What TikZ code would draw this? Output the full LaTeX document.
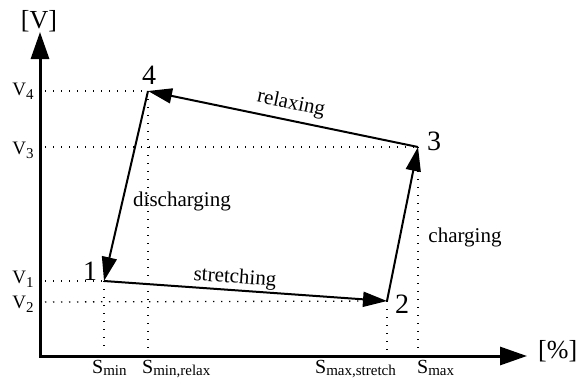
\documentclass[tikz,border=0pt]{standalone}
\usepackage{fontspec}
\setmainfont{Liberation Serif}
\usetikzlibrary{arrows.meta}
\newcommand\lowsub[2]{\raisebox{-#2}{\fontsize{15}{15}\selectfont #1}}
\begin{document}
\begin{tikzpicture}[x=1pt,y=-1pt,
  axis/.style={line width=3pt,line join=miter,{Triangle[length=27pt,width=18pt]}-{Triangle[length=27pt,width=18pt]}},
  edge/.style={line width=2pt,-{Triangle[length=24pt,width=15pt]}},
  guide/.style={line width=1.3pt,dash pattern=on 1.3pt off 6.7pt},
  lbl/.style={font=\fontsize{21}{21}\selectfont,inner sep=0pt},
  num/.style={font=\fontsize{28}{28}\selectfont,inner sep=0pt},
  vlab/.style={font=\fontsize{19}{19}\selectfont,inner sep=0pt,anchor=base},
  slab/.style={font=\fontsize{20}{20}\selectfont,inner sep=0pt,anchor=base west},
  unit/.style={font=\fontsize{26}{26}\selectfont,inner sep=0pt}]
\useasboundingbox (0,0) rectangle (581,388);
% axes
\coordinate (O) at (40,356);
\coordinate (ytip) at (40,32);
\coordinate (xtip) at (527,356);
\draw[axis] (ytip) -- (O) -- (xtip);
\node[unit,anchor=base] (ulab) at (39,28) {[V]};
\node[unit,anchor=base west] (xlab) at (538,358) {[\%]};
% cycle points
\coordinate (p1) at (104,281);
\coordinate (p2) at (387,301);
\coordinate (p3) at (418,147);
\coordinate (p4) at (148,91);
% axis feet
\coordinate (y1) at (45,281);
\coordinate (y2) at (45,302);
\coordinate (y3) at (45,147);
\coordinate (y4) at (45,91);
\coordinate (x1) at (104,350);
\coordinate (x2) at (387,350);
\coordinate (x3) at (418,350);
\coordinate (x4) at (148,350);
% dotted guides
\draw[guide] (y4) -- (p4);
\draw[guide] (y3) -- (p3);
\draw[guide] (y1) -- (p1);
\draw[guide] (y2) -- (p2);
\draw[guide] (p1) -- (x1);
\draw[guide] (p4) -- (x4);
\draw[guide] (p2) -- (x2);
\draw[guide] (p3) -- (x3);
% edges
\draw[edge] (p4) -- (p1);
\draw[edge] (p1) -- (p2);
\draw[edge] (p2) -- (p3);
\draw[edge] (p3) -- (p4);
% numbers
\node[num] (n1) at (90,271) {1};
\node[num] (n2) at (402,304) {2};
\node[num] (n3) at (434,141) {3};
\node[num] (n4) at (149,75) {4};
% edge labels
\node[lbl,rotate=-11.7] (lrelax) at (291,104) {relaxing};
\node[lbl,rotate=-4] (lstretch) at (235,278) {stretching};
\node[lbl] (ldis) at (182,201) {discharging};
\node[lbl] (lchg) at (465,237) {charging};
% V labels
\node[vlab] (v4) at (23,95) {V\lowsub{4}{4pt}};
\node[vlab] (v3) at (23,154) {V\lowsub{3}{4pt}};
\node[vlab] (v1) at (23,283) {V\lowsub{1}{4pt}};
\node[vlab] (v2) at (23,308) {V\lowsub{2}{4pt}};
% S labels
\node[slab] (s1) at (92,373) {S\lowsub{min}{2pt}};
\node[slab] (s4) at (142,373) {S\lowsub{min,relax}{2pt}};
\node[slab] (s2) at (315,373) {S\lowsub{max,stretch}{2pt}};
\node[slab] (s3) at (417,373) {S\lowsub{max}{2pt}};
\end{tikzpicture}
\end{document}
